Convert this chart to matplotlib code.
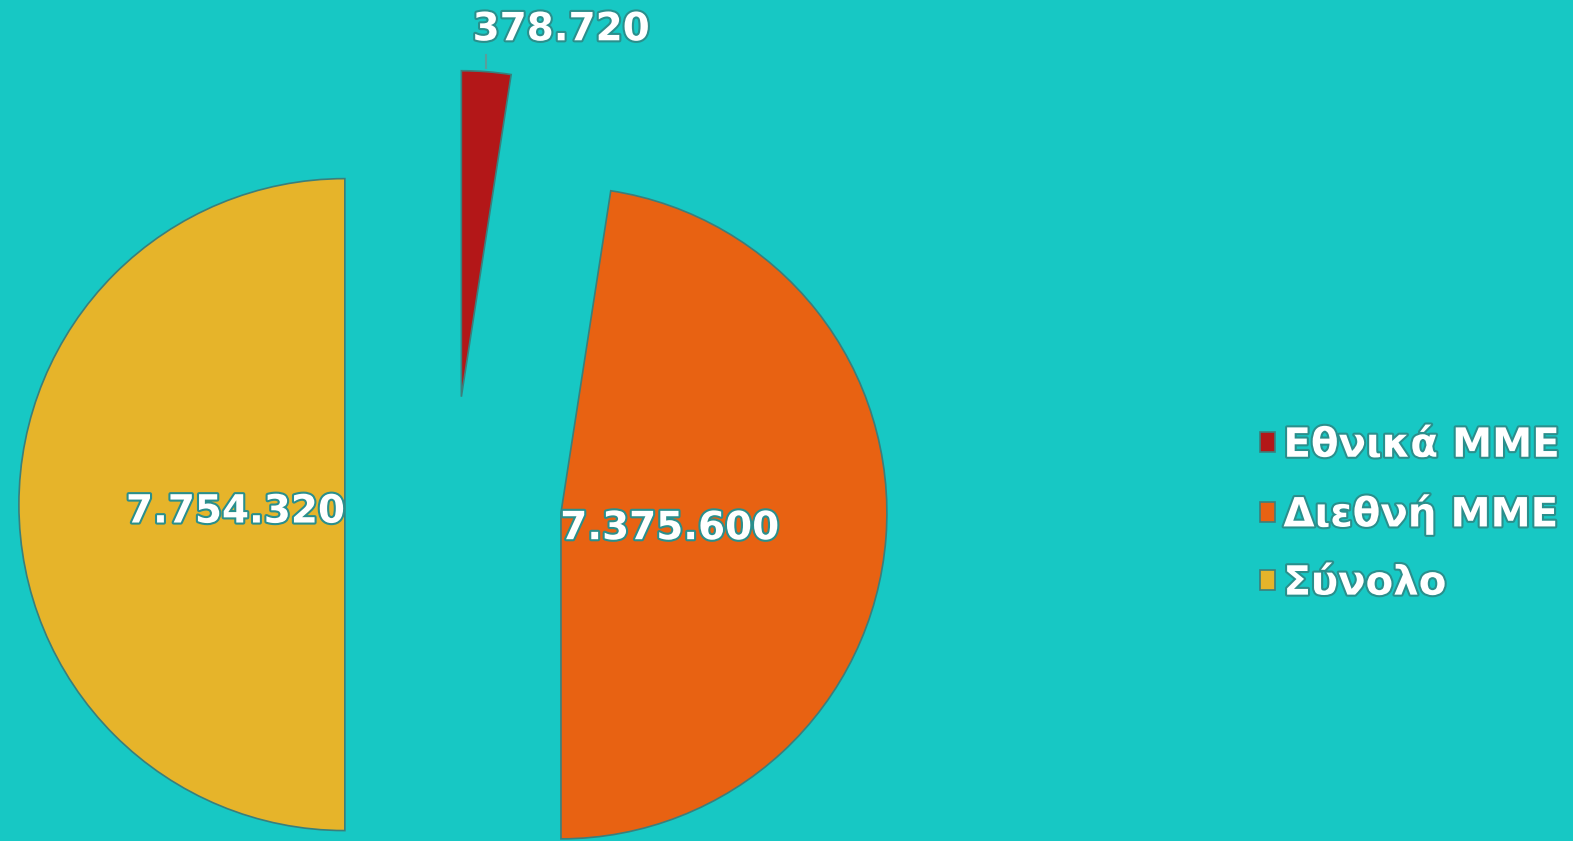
import numpy as np
import matplotlib

matplotlib.use("Agg")
import matplotlib.pyplot as plt
import matplotlib.patheffects as pe

categories = ["Εθνικά ΜΜΕ", "Διεθνή ΜΜΕ", "Σύνολο"]
values = [378720, 7375600, 7754320]
colors = ["#B31718", "#E86212", "#E6B42A"]

BG = "#17C8C4"


def fmt(v):
    return f"{v:,}".replace(",", ".")


plt.rcParams["font.family"] = ["DejaVu Sans"]

fig = plt.figure(figsize=(15.73, 8.41), dpi=100, facecolor=BG)
ax = fig.add_axes([0, 0, 1, 1])
ax.set_facecolor(BG)

wedges, _ = ax.pie(
    values,
    colors=colors,
    startangle=90,
    counterclock=False,
    radius=1.0,
    explode=[0.332] * len(values),
    wedgeprops=dict(edgecolor="#3a7f7c", linewidth=1.2),
)

ax.set_xlim(-1.390, 3.436)
ax.set_ylim(-1.032, 1.548)
ax.set_aspect("auto")
ax.axis("off")

glow = [pe.withStroke(linewidth=3, foreground="#2a8f8c")]

for w, v in zip(wedges, values):
    mid = np.deg2rad((w.theta1 + w.theta2) / 2)
    cx, cy = w.center
    if v / sum(values) < 0.05:
        # small slice: label outside with a short leader line
        tipx = cx + w.r * np.cos(mid)
        tipy = cy + w.r * np.sin(mid)
        ax.plot([tipx, tipx], [tipy + 0.01, tipy + 0.05], color="#5a9e9b", lw=1.5)
        ax.annotate(fmt(v), (tipx + 0.23, tipy + 0.13), xytext=(0, 0),
                    textcoords="offset points", ha="center", va="center",
                    fontsize=28, fontweight="bold", color="white", path_effects=glow)
    else:
        d = 0.335
        ax.annotate(fmt(v), (cx + d * np.cos(mid), cy + d * np.sin(mid)),
                    xytext=(0, -5), textcoords="offset points",
                    ha="center", va="center", fontsize=28, fontweight="bold",
                    color="white", path_effects=glow)

leg = ax.legend(
    wedges, categories,
    loc="center left", bbox_to_anchor=(0.778, 0.388),
    frameon=False,
    prop=dict(size=29, weight="bold"),
    handlelength=0.38, handleheight=0.38, handletextpad=0.2,
    labelspacing=0.7,
)
for t in leg.get_texts():
    t.set_color("white")
    t.set_path_effects(glow)

fig.savefig("out.png", dpi=100, facecolor=BG)
